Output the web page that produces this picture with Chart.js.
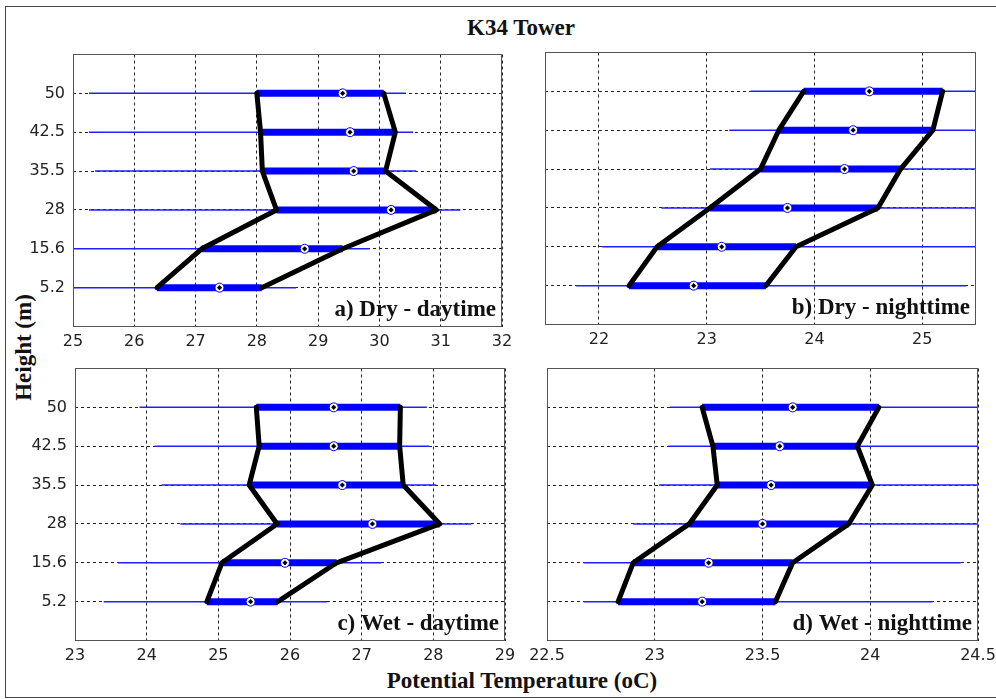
<!DOCTYPE html>
<html>
<head>
<meta charset="utf-8">
<script src="https://cdn.jsdelivr.net/npm/chart.js@4.4.1/dist/chart.umd.min.js"></script>
<style>
  body { margin: 0; background: #fff; width: 996px; height: 699px; overflow: hidden; position: relative; }
  .frame { position: absolute; left: 5px; top: 6px; width: 1000px; height: 690px; border: 1px solid #444; }
  .lbl { position: absolute; font-family: "Liberation Serif", "Times New Roman", serif; font-weight: bold;
         font-size: 23px; line-height: 23px; height: 23px; color: #111; white-space: nowrap; text-align: center; }
  canvas { position: absolute; }
</style>
</head>
<body>
<div class="frame"></div>
<div class="lbl" style="left:421px; top:16px; width:200px;">K34 Tower</div>
<div class="lbl" style="left:-77px; top:336px; width:200px; transform:rotate(-90deg);">Height (m)</div>
<div class="lbl" style="left:322px; top:669px; width:400px;">Potential Temperature (oC)</div>

<script>
// tower levels, bottom to top
const heightLabels = ["5.2", "15.6", "28", "35.5", "42.5", "50"];

// a) Dry - daytime
const dryDayMin = [24.7, 24.9, 25.26, 25.36, 25.26, 25.26];
const dryDayMax = [28.64, 29.84, 31.32, 30.6, 30.55, 30.43];
const dryDayQ1 = [26.37, 27.1, 28.32, 28.09, 28.06, 28.0];
const dryDayQ3 = [28.08, 29.4, 30.93, 30.1, 30.26, 30.07];
const dryDayMean = [27.39, 28.78, 30.19, 29.58, 29.52, 29.4];
const dryDayTicks = [25, 26, 27, 28, 29, 30, 31, 32];

// b) Dry - nighttime
const dryNightMin = [21.79, 22.03, 22.58, 23.03, 23.21, 23.41];
const dryNightMax = [25.41, 25.6, 25.6, 25.6, 25.6, 25.6];
const dryNightQ1 = [22.28, 22.54, 23.03, 23.5, 23.67, 23.9];
const dryNightQ3 = [23.55, 23.83, 24.59, 24.8, 25.1, 25.19];
const dryNightMean = [22.88, 23.14, 23.75, 24.28, 24.36, 24.51];
const dryNightTicks = [22, 23, 24, 25];

// c) Wet - daytime
const wetDayMin = [23.4, 23.6, 24.47, 24.21, 24.11, 23.9];
const wetDayMax = [26.52, 27.27, 28.53, 28.04, 27.94, 27.91];
const wetDayQ1 = [24.84, 25.05, 25.82, 25.43, 25.57, 25.53];
const wetDayQ3 = [25.83, 26.65, 28.09, 27.58, 27.53, 27.54];
const wetDayMean = [25.45, 25.93, 27.15, 26.73, 26.61, 26.61];
const wetDayTicks = [23, 24, 25, 26, 27, 28, 29];

// d) Wet - nighttime
const wetNightMin = [22.67, 22.67, 22.9, 23.02, 23.06, 23.07];
const wetNightMax = [24.29, 24.42, 24.6, 24.6, 24.6, 24.6];
const wetNightQ1 = [22.83, 22.9, 23.16, 23.29, 23.27, 23.22];
const wetNightQ3 = [23.56, 23.64, 23.9, 24.01, 23.94, 24.04];
const wetNightMean = [23.22, 23.25, 23.5, 23.54, 23.58, 23.64];
const wetNightTicks = [22.5, 23, 23.5, 24, 24.5];

// half-pixel offsets keep the grid and range lines crisp
const AXIS_W = 60;
const AXIS_H = 40.5;
const PAD_T = 4.5;
const PAD_R = 20;
const tickFont = { family: "'DejaVu Sans', sans-serif", size: 16 };

const panels = [
  { label: "a) Dry - daytime", x: 73, y: 53, w: 429, h: 273, xMin: 25, xMax: 32, ticks: dryDayTicks,
    min: dryDayMin, max: dryDayMax, q1: dryDayQ1, q3: dryDayQ3, mean: dryDayMean, showY: true },
  { label: "b) Dry - nighttime", x: 545, y: 51, w: 431, h: 273, xMin: 21.5, xMax: 25.5, ticks: dryNightTicks,
    min: dryNightMin, max: dryNightMax, q1: dryNightQ1, q3: dryNightQ3, mean: dryNightMean, showY: false },
  { label: "c) Wet - daytime", x: 75, y: 367, w: 430, h: 273, xMin: 23, xMax: 29, ticks: wetDayTicks,
    min: wetDayMin, max: wetDayMax, q1: wetDayQ1, q3: wetDayQ3, mean: wetDayMean, showY: true },
  { label: "d) Wet - nighttime", x: 547, y: 367, w: 431, h: 273, xMin: 22.5, xMax: 24.5, ticks: wetNightTicks,
    min: wetNightMin, max: wetNightMax, q1: wetNightQ1, q3: wetNightQ3, mean: wetNightMean, showY: false },
];

// box round the plot area + the panel caption
const panel_Frame = {
  id: "panelFrame",
  afterDraw(chart, args, opts) {
    const { ctx, chartArea: a } = chart;
    ctx.save();
    ctx.strokeStyle = "#555";
    ctx.lineWidth = 1;
    const l = Math.floor(a.left) + 0.5;
    const t = Math.floor(a.top) + 0.5;
    ctx.strokeRect(l, t, Math.floor(a.right) - 0.5 - l, Math.floor(a.bottom) + 0.5 - t);
    ctx.font = "bold 23px 'Liberation Serif', serif";
    ctx.textAlign = "right";
    ctx.textBaseline = "alphabetic";
    ctx.fillStyle = "#111";
    ctx.fillText(opts.text, a.right - 6, a.bottom - 11);
    ctx.restore();
  },
};

function to_Points(values) {
  return values.map((v, i) => ({ x: v, y: i + 1 }));
}

function create_Panel(cfg) {
  const canvas = document.createElement("canvas");
  canvas.width = cfg.w + AXIS_W + PAD_R;
  canvas.height = cfg.h + 4 + 41;
  canvas.style.left = cfg.x - AXIS_W + "px";
  canvas.style.top = cfg.y - 4 + "px";
  document.body.append(canvas);

  const datasets = [];
  heightLabels.forEach((h, i) => {
    // full range
    datasets.push({
      data: [{ x: cfg.min[i], y: i + 1 }, { x: cfg.max[i], y: i + 1 }],
      borderColor: "#1f1fff", borderWidth: 1.5, pointRadius: 0, order: 4,
    });
    // quartile band
    datasets.push({
      data: [{ x: cfg.q1[i], y: i + 1 }, { x: cfg.q3[i], y: i + 1 }],
      borderColor: "#0000ff", borderWidth: 7, borderCapStyle: "butt", pointRadius: 0, order: 3,
    });
  });
  // quartile profiles
  for (const q of [cfg.q1, cfg.q3]) {
    datasets.push({
      data: to_Points(q),
      borderColor: "#000", borderWidth: 5, borderJoinStyle: "round", borderCapStyle: "round",
      pointRadius: 0, order: 2,
    });
  }
  // mean markers
  datasets.push({
    data: to_Points(cfg.mean), showLine: false, pointRadius: 4.5, pointBackgroundColor: "#fff",
    pointBorderColor: "#0000ff", pointBorderWidth: 1, order: 1,
  });
  datasets.push({
    data: to_Points(cfg.mean), showLine: false, pointStyle: "rectRot", pointRadius: 2.6,
    pointBackgroundColor: "#000", pointBorderWidth: 0, order: 0,
  });

  new Chart(canvas, {
    type: "line",
    data: { datasets },
    options: {
      responsive: false,
      animation: false,
      devicePixelRatio: 1,
      layout: { padding: { top: PAD_T, right: PAD_R, left: 0, bottom: 0 } },
      plugins: { legend: { display: false }, tooltip: { enabled: false }, panelFrame: { text: cfg.label } },
      scales: {
        x: {
          type: "linear", min: cfg.xMin, max: cfg.xMax, bounds: "data",
          afterBuildTicks: (s) => { s.ticks = cfg.ticks.map((v) => ({ value: v })); },
          afterFit: (s) => { s.height = AXIS_H; s.paddingLeft = 0; s.paddingRight = 0; },
          grid: { color: "#222", lineWidth: 1, drawTicks: false },
          border: { display: false, dash: [3, 3] },
          ticks: { padding: 6, color: "#222", font: tickFont, maxRotation: 0, callback: (v) => String(v) },
        },
        y: {
          type: "linear", min: 0, max: 7, bounds: "data",
          afterBuildTicks: (s) => { s.ticks = heightLabels.map((h, i) => ({ value: i + 1 })); },
          afterFit: (s) => { s.width = AXIS_W; s.paddingTop = 0; s.paddingBottom = 0; },
          grid: { color: "#222", lineWidth: 1, drawTicks: false },
          border: { display: false, dash: [3, 3] },
          ticks: { display: cfg.showY, padding: 8, color: "#222", font: tickFont,
                   callback: (v) => heightLabels[v - 1] },
        },
      },
    },
    plugins: [panel_Frame],
  });
}

panels.forEach(create_Panel);
</script>
</body>
</html>
